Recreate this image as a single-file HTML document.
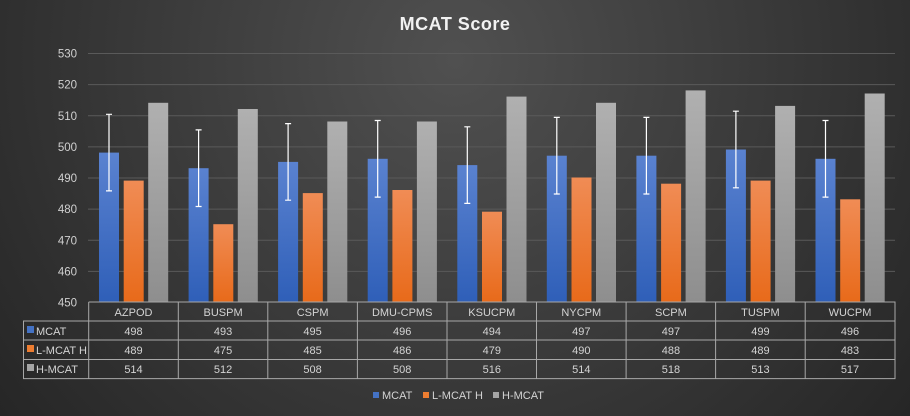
<!DOCTYPE html>
<html><head><meta charset="utf-8"><style>
html,body{margin:0;padding:0;width:910px;height:416px;overflow:hidden;background:#2a2a2a}
svg{display:block;font-family:"Liberation Sans",sans-serif}
</style></head><body>
<svg width="910" height="416" viewBox="0 0 910 416" xmlns="http://www.w3.org/2000/svg">
<defs>
<radialGradient id="bg" cx="455" cy="60" r="620" gradientUnits="userSpaceOnUse">
<stop offset="0" stop-color="#505050"/><stop offset="1" stop-color="#232323"/></radialGradient>
<linearGradient id="gb" x1="0" y1="0" x2="0" y2="1"><stop offset="0" stop-color="#5a82d0"/><stop offset="1" stop-color="#2f5fb8"/></linearGradient>
<linearGradient id="go" x1="0" y1="0" x2="0" y2="1"><stop offset="0" stop-color="#f08c55"/><stop offset="1" stop-color="#e86a1a"/></linearGradient>
<linearGradient id="gg" x1="0" y1="0" x2="0" y2="1"><stop offset="0" stop-color="#b0b0b0"/><stop offset="1" stop-color="#8e8e8e"/></linearGradient>
</defs>
<rect width="910" height="416" fill="url(#bg)"/>
<text x="455" y="30" text-anchor="middle" font-size="18" font-weight="bold" fill="#f2f2f2" letter-spacing="0.5">MCAT  Score</text>
<g stroke="#5a5a5a" stroke-width="1">
<line x1="88" y1="53.5" x2="895" y2="53.5"/><line x1="88" y1="84.6" x2="895" y2="84.6"/>
<line x1="88" y1="115.8" x2="895" y2="115.8"/><line x1="88" y1="146.9" x2="895" y2="146.9"/>
<line x1="88" y1="178" x2="895" y2="178"/><line x1="88" y1="209.1" x2="895" y2="209.1"/>
<line x1="88" y1="240.3" x2="895" y2="240.3"/><line x1="88" y1="271.4" x2="895" y2="271.4"/>
</g>
<g font-size="11.5" fill="#d0d0d0" text-anchor="end">
<text x="77" y="57.5">530</text><text x="77" y="88.6">520</text><text x="77" y="119.8">510</text>
<text x="77" y="150.9">500</text><text x="77" y="182">490</text><text x="77" y="213.1">480</text>
<text x="77" y="244.3">470</text><text x="77" y="275.4">460</text><text x="77" y="306.5">450</text>
</g>
<g fill="url(#gb)">
<rect x="99" y="152.6" width="20" height="149.4"/><rect x="188.6" y="168.2" width="20" height="133.8"/>
<rect x="278.1" y="161.9" width="20" height="140.1"/><rect x="367.7" y="158.8" width="20" height="143.2"/>
<rect x="457.3" y="165.1" width="20" height="136.9"/><rect x="546.8" y="155.7" width="20" height="146.3"/>
<rect x="636.4" y="155.7" width="20" height="146.3"/><rect x="725.9" y="149.5" width="20" height="152.5"/>
<rect x="815.5" y="158.8" width="20" height="143.2"/>
</g>
<g fill="url(#go)">
<rect x="123.7" y="180.6" width="20" height="121.4"/><rect x="213.3" y="224.2" width="20" height="77.8"/>
<rect x="302.8" y="193.1" width="20" height="108.9"/><rect x="392.4" y="190" width="20" height="112"/>
<rect x="482" y="211.7" width="20" height="90.3"/><rect x="571.5" y="177.5" width="20" height="124.5"/>
<rect x="661.1" y="183.7" width="20" height="118.3"/><rect x="750.6" y="180.6" width="20" height="121.4"/>
<rect x="840.2" y="199.3" width="20" height="102.7"/>
</g>
<g fill="url(#gg)">
<rect x="148.2" y="102.8" width="20" height="199.2"/><rect x="237.8" y="109" width="20" height="193"/>
<rect x="327.3" y="121.5" width="20" height="180.5"/><rect x="416.9" y="121.5" width="20" height="180.5"/>
<rect x="506.5" y="96.6" width="20" height="205.4"/><rect x="596" y="102.8" width="20" height="199.2"/>
<rect x="685.6" y="90.4" width="20" height="211.6"/><rect x="775.1" y="105.9" width="20" height="196.1"/>
<rect x="864.7" y="93.5" width="20" height="208.5"/>
</g>
<g stroke="#ffffff" stroke-width="1.2" fill="none">
<path d="M109 114.3V190.9M106 114.3H112M106 190.9H112"/>
<path d="M198.6 129.9V206.5M195.6 129.9H201.6M195.6 206.5H201.6"/>
<path d="M288.1 123.6V200.2M285.1 123.6H291.1M285.1 200.2H291.1"/>
<path d="M377.7 120.5V197.1M374.7 120.5H380.7M374.7 197.1H380.7"/>
<path d="M467.3 126.8V203.4M464.3 126.8H470.3M464.3 203.4H470.3"/>
<path d="M556.8 117.4V194M553.8 117.4H559.8M553.8 194H559.8"/>
<path d="M646.4 117.4V194M643.4 117.4H649.4M643.4 194H649.4"/>
<path d="M735.9 111.2V187.8M732.9 111.2H738.9M732.9 187.8H738.9"/>
<path d="M825.5 120.5V197.1M822.5 120.5H828.5M822.5 197.1H828.5"/>
</g>
<g stroke="#a8a8a8" stroke-width="1" fill="none">
<path d="M88.7 302H895V378.6H23.5V321H895M23.5 340H895M23.5 359.5H895M88.7 302V378.6"/>
<path d="M178.3 302V378.6M267.8 302V378.6M357.4 302V378.6M447 302V378.6M536.5 302V378.6M626.1 302V378.6M715.6 302V378.6M805.2 302V378.6M895 302V378.6"/>
</g>
<g font-size="11" fill="#d4d4d4" text-anchor="middle">
<text x="133.5" y="316">AZPOD</text><text x="223.1" y="316">BUSPM</text><text x="312.6" y="316">CSPM</text>
<text x="402.2" y="316">DMU-CPMS</text><text x="491.8" y="316">KSUCPM</text><text x="581.3" y="316">NYCPM</text>
<text x="670.9" y="316">SCPM</text><text x="760.4" y="316">TUSPM</text><text x="850" y="316">WUCPM</text>
<text x="133.5" y="335">498</text><text x="223.1" y="335">493</text><text x="312.6" y="335">495</text>
<text x="402.2" y="335">496</text><text x="491.8" y="335">494</text><text x="581.3" y="335">497</text>
<text x="670.9" y="335">497</text><text x="760.4" y="335">499</text><text x="850" y="335">496</text>
<text x="133.5" y="354">489</text><text x="223.1" y="354">475</text><text x="312.6" y="354">485</text>
<text x="402.2" y="354">486</text><text x="491.8" y="354">479</text><text x="581.3" y="354">490</text>
<text x="670.9" y="354">488</text><text x="760.4" y="354">489</text><text x="850" y="354">483</text>
<text x="133.5" y="373">514</text><text x="223.1" y="373">512</text><text x="312.6" y="373">508</text>
<text x="402.2" y="373">508</text><text x="491.8" y="373">516</text><text x="581.3" y="373">514</text>
<text x="670.9" y="373">518</text><text x="760.4" y="373">513</text><text x="850" y="373">517</text>
</g>
<g font-size="11" fill="#d4d4d4">
<rect x="27" y="326" width="7" height="7" fill="#4472c4"/><text x="36" y="335">MCAT</text>
<rect x="27" y="345" width="7" height="7" fill="#ed7d31"/><text x="36" y="354">L-MCAT H</text>
<rect x="27" y="364" width="7" height="7" fill="#a5a5a5"/><text x="36" y="373">H-MCAT</text>
</g>
<g font-size="11" fill="#d4d4d4">
<rect x="373" y="392" width="6" height="6" fill="#4472c4"/><text x="382" y="399">MCAT</text>
<rect x="423" y="392" width="6" height="6" fill="#ed7d31"/><text x="432" y="399">L-MCAT H</text>
<rect x="493" y="392" width="6" height="6" fill="#a5a5a5"/><text x="502" y="399">H-MCAT</text>
</g>
</svg>
</body></html>
